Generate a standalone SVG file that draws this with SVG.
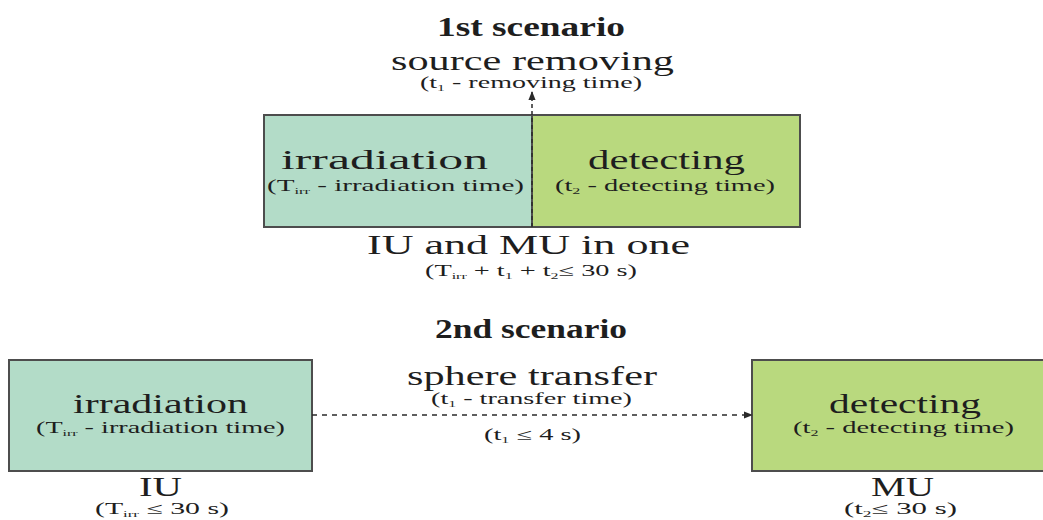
<svg xmlns="http://www.w3.org/2000/svg" width="1043" height="520" viewBox="0 0 1043 520">
<defs>
<style>
text{font-family:"Liberation Serif","Times New Roman",serif;fill:#1e1e1e}
.h{font-size:27px;font-weight:bold}
.m{font-size:28px}
.s{font-size:16px}
.sub{font-size:9px}
.teal{fill:#b3dcc8;stroke:#4d4d4d;stroke-width:2}
.green{fill:#b9d97e;stroke:#4d4d4d;stroke-width:2}
.dash{stroke:#2a2a2a;stroke-width:1.5;fill:none}
</style>
<marker id="ah" viewBox="0 0 10 10" refX="9" refY="5" markerWidth="9" markerHeight="9" orient="auto" markerUnits="userSpaceOnUse">
<path d="M0,1 L10,5 L0,9 Z" fill="#2a2a2a"/>
</marker>
</defs>
<rect width="1043" height="520" fill="#ffffff"/>

<g id="titles">
<text class="h" x="437" y="36" textLength="188" lengthAdjust="spacingAndGlyphs">1st scenario</text>
<text class="h" x="435" y="338" textLength="192" lengthAdjust="spacingAndGlyphs">2nd scenario</text>
</g>

<g id="node-top-irradiation">
<rect class="teal" x="264" y="115" width="268" height="112"/>
<text class="m" x="281" y="169" textLength="207" lengthAdjust="spacingAndGlyphs">irradiation</text>
<text class="s" x="267" y="191" textLength="257" lengthAdjust="spacingAndGlyphs">(T<tspan class="sub" dy="3">irr</tspan><tspan dy="-3"> - irradiation time)</tspan></text>
</g>

<g id="node-top-detecting">
<rect class="green" x="532" y="115" width="268" height="112"/>
<text class="m" x="588" y="169" textLength="157" lengthAdjust="spacingAndGlyphs">detecting</text>
<text class="s" x="555" y="191" textLength="220" lengthAdjust="spacingAndGlyphs">(t<tspan class="sub" dy="3">2</tspan><tspan dy="-3"> - detecting time)</tspan></text>
</g>

<g id="top-labels">
<text class="m" x="391" y="70" textLength="283" lengthAdjust="spacingAndGlyphs">source removing</text>
<text class="s" x="420" y="88" textLength="222" lengthAdjust="spacingAndGlyphs">(t<tspan class="sub" dy="3">1</tspan><tspan dy="-3"> - removing time)</tspan></text>
<text class="m" x="367" y="254" textLength="323" lengthAdjust="spacingAndGlyphs">IU and MU in one</text>
<text class="s" x="425" y="276" textLength="212" lengthAdjust="spacingAndGlyphs">(T<tspan class="sub" dy="3">irr</tspan><tspan dy="-3"> + t</tspan><tspan class="sub" dy="3">1</tspan><tspan dy="-3"> + t</tspan><tspan class="sub" dy="3">2</tspan><tspan dy="-3">≤ 30 s)</tspan></text>
</g>

<g id="node-iu">
<rect class="teal" x="9" y="360" width="303" height="111"/>
<text class="m" x="73" y="413" textLength="175" lengthAdjust="spacingAndGlyphs">irradiation</text>
<text class="s" x="36" y="433" textLength="249" lengthAdjust="spacingAndGlyphs">(T<tspan class="sub" dy="3">irr</tspan><tspan dy="-3"> - irradiation time)</tspan></text>
<text class="m" x="139" y="496" textLength="43" lengthAdjust="spacingAndGlyphs">IU</text>
<text class="s" x="95" y="514" textLength="134" lengthAdjust="spacingAndGlyphs">(T<tspan class="sub" dy="3">irr</tspan><tspan dy="-3"> ≤ 30 s)</tspan></text>
</g>

<g id="node-mu">
<rect class="green" x="752" y="360" width="300" height="111"/>
<text class="m" x="829" y="413" textLength="152" lengthAdjust="spacingAndGlyphs">detecting</text>
<text class="s" x="793" y="433" textLength="221" lengthAdjust="spacingAndGlyphs">(t<tspan class="sub" dy="3">2</tspan><tspan dy="-3"> - detecting time)</tspan></text>
<text class="m" x="871" y="496" textLength="63" lengthAdjust="spacingAndGlyphs">MU</text>
<text class="s" x="844" y="514" textLength="113" lengthAdjust="spacingAndGlyphs">(t<tspan class="sub" dy="3">2</tspan><tspan dy="-3">≤ 30 s)</tspan></text>
</g>

<g id="connectors">
<line class="dash" x1="532" y1="227" x2="532" y2="92" stroke-width="2" stroke-dasharray="4,3" marker-end="url(#ah)"/>
<line class="dash" x1="312" y1="415" x2="752" y2="415" stroke-width="1.2" stroke-dasharray="5,5" marker-end="url(#ah)"/>
</g>

<g id="transfer-labels">
<text class="m" x="407" y="385" textLength="250" lengthAdjust="spacingAndGlyphs">sphere transfer</text>
<text class="s" x="431" y="404" textLength="201" lengthAdjust="spacingAndGlyphs">(t<tspan class="sub" dy="3">1</tspan><tspan dy="-3"> - transfer time)</tspan></text>
<text class="s" x="484" y="440" textLength="97" lengthAdjust="spacingAndGlyphs">(t<tspan class="sub" dy="3">1</tspan><tspan dy="-3"> ≤ 4 s)</tspan></text>
</g>
</svg>
